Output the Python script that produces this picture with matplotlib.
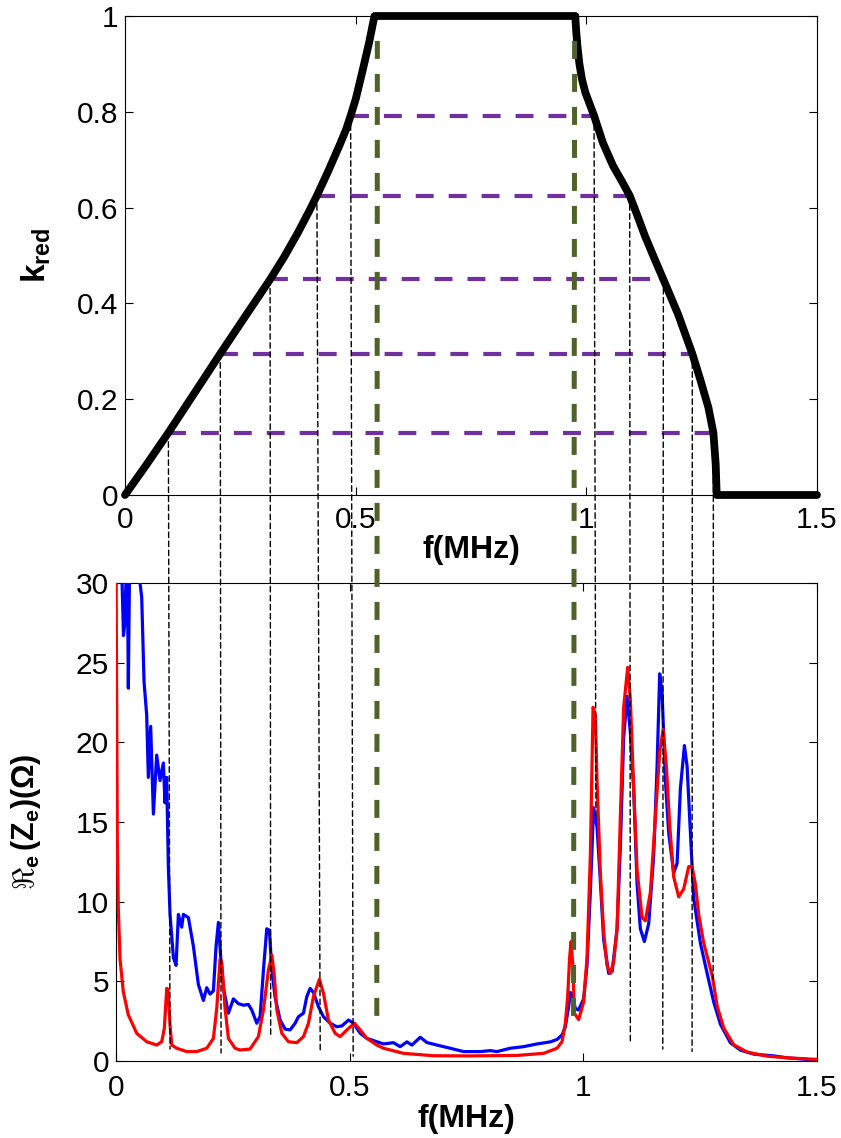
import matplotlib
matplotlib.use("Agg")
import matplotlib.pyplot as plt
from matplotlib.patches import ConnectionPatch

plt.rcParams['font.family'] = ['Liberation Sans', 'DejaVu Sans']
plt.rcParams['mathtext.fontset'] = 'custom'
plt.rcParams['mathtext.rm'] = 'Liberation Sans'
plt.rcParams['mathtext.it'] = 'Liberation Sans:italic'
plt.rcParams['mathtext.bf'] = 'Liberation Sans:bold'

# ---------------- data ----------------
# top: reduction coefficient k_red vs f (MHz)
k_f = [0, 0.047, 0.094, 0.15, 0.2065, 0.26, 0.3145, 0.345, 0.375, 0.40, 0.416, 0.44,
       0.465, 0.48, 0.4891, 0.50, 0.5145, 0.522, 0.529, 0.5345, 0.5384, 0.541,
       0.976, 0.978, 0.981, 0.985, 0.9905, 0.998, 1.0167, 1.036, 1.058, 1.077, 1.094,
       1.11, 1.127, 1.147, 1.167, 1.199, 1.2297, 1.2464, 1.2645, 1.2754, 1.2804,
       1.2826, 1.5]
k_v = [0, 0.064, 0.13, 0.212, 0.295, 0.372, 0.45, 0.497, 0.548, 0.594, 0.625, 0.675,
       0.73, 0.765, 0.792, 0.826, 0.884, 0.915, 0.944, 0.97, 0.989, 1.0,
       1.0, 0.968, 0.935, 0.9, 0.868, 0.84, 0.792, 0.735, 0.687, 0.655, 0.625,
       0.585, 0.541, 0.495, 0.45, 0.377, 0.295, 0.243, 0.183, 0.13, 0.0646,
       0.0, 0.0]

# horizontal levels and their intersections
levels = [0.13, 0.295, 0.45, 0.625, 0.792]
lev_left_top = [0.094, 0.2065, 0.3145, 0.416, 0.4891]
lev_right_top = [1.2754, 1.2297, 1.167, 1.094, 1.0167]
lev_left_bot = [0.1156, 0.2248, 0.331, 0.437, 0.5075]
lev_left_end = [0.75, 0.5, 1.6, 0.5, 0.3]
lev_right_bot = [1.2777, 1.2327, 1.170, 1.1006, 1.027]
lev_right_end = [5.1, 0.6, 0.75, 1.1, 15.3]

# band edges (green)
band_top_f = [0.547, 0.9746]
band_top_k = [0.948, 0.948]
band_bot_f = [0.558, 0.979]
band_bot_v = [1.95, 1.95]

# bottom: real part of impedance
blue_f = [0.004, 0.012, 0.016, 0.019, 0.022, 0.024, 0.0264, 0.029, 0.033, 0.045, 0.0514,
          0.055, 0.060, 0.0657, 0.0692, 0.0742, 0.080, 0.0871, 0.0942, 0.1013, 0.1049,
          0.1085, 0.112, 0.1156, 0.1228, 0.1285, 0.1335, 0.1406, 0.1442, 0.1549, 0.1656,
          0.1763, 0.187, 0.1941, 0.2013, 0.2084, 0.2141, 0.2191, 0.2241, 0.2298, 0.2405,
          0.2512, 0.2619, 0.2726, 0.2833, 0.2905, 0.3013, 0.3084, 0.3155, 0.3226, 0.3283,
          0.3334, 0.3405, 0.3512, 0.3619, 0.3726, 0.3833, 0.3904, 0.4011, 0.4083, 0.4154,
          0.4225, 0.4332, 0.4439, 0.4582, 0.4726, 0.4833, 0.4975, 0.5082, 0.5225, 0.5368,
          0.5582, 0.5724, 0.5938, 0.6081, 0.6225, 0.6332, 0.651, 0.6653, 0.6867, 0.7152,
          0.7437, 0.7794, 0.8009, 0.8152, 0.8437, 0.8722, 0.9009, 0.9293, 0.9437, 0.9544,
          0.9615, 0.9685, 0.9722, 0.9758, 0.9829, 0.9899, 1.0006, 1.0079, 1.015, 1.022,
          1.0293, 1.0364, 1.0435, 1.0542, 1.0615, 1.0722, 1.0792, 1.0863, 1.0936, 1.1006,
          1.1077, 1.115, 1.122, 1.1306, 1.1398, 1.1506, 1.1578, 1.1634, 1.1685, 1.1756,
          1.1827, 1.1934, 1.2006, 1.2077, 1.2163, 1.222, 1.2291, 1.2362, 1.2505, 1.2649,
          1.279, 1.2934, 1.3148, 1.3362, 1.3647, 1.4075, 1.4362, 1.5]
blue_v = [40, 31, 26.7, 27.5, 31, 32, 23.4, 31, 38, 33, 30,
          29.1, 23.8, 21.7, 17.8, 21.0, 15.5, 19.2, 17.6, 18.7, 16.2,
          17.8, 12.2, 9.2, 6.5, 6.0, 9.2, 8.4, 9.2, 9.0, 7.2,
          4.8, 3.8, 4.6, 4.2, 4.4, 7.2, 8.7, 6.5, 4.6, 3.0,
          3.9, 3.6, 3.5, 3.55, 3.2, 2.37, 2.8, 5.7, 8.3, 8.2,
          5.7, 4.0, 2.57, 2.0, 1.95, 2.37, 2.78, 3.0, 4.04, 4.56,
          4.3, 3.41, 2.78, 2.37, 2.15, 2.2, 2.57, 2.37, 1.74, 1.42,
          1.21, 1.07, 1.15, 0.9, 1.2, 1.0, 1.49, 1.16, 1.0, 0.8,
          0.59, 0.59, 0.65, 0.59, 0.8, 0.9, 1.07, 1.2, 1.35, 1.63,
          2.15, 3.4, 4.3, 4.2, 3.3, 3.2, 3.9, 6.0, 10.6, 15.9,
          14.7, 11.3, 7.6, 5.5, 5.6, 8.3, 13.4, 20.3, 22.9, 20.6,
          17.1, 11.1, 8.3, 7.5, 8.6, 12.9, 18.5, 24.3, 23.1, 17.6,
          14.3, 11.8, 12.4, 17.1, 19.8, 18.5, 14.3, 10.2, 7.4, 5.5,
          3.7, 2.3, 1.14, 0.68, 0.43, 0.32, 0.2, 0.05]

red_f = [0.0, 0.0015, 0.0028, 0.0049, 0.0086, 0.0156, 0.0263, 0.0443, 0.0657, 0.0872,
         0.0979, 0.1034, 0.1086, 0.1113, 0.1156, 0.1193, 0.13, 0.1514, 0.1728, 0.1942,
         0.2084, 0.2156, 0.2227, 0.2263, 0.2334, 0.2405, 0.2548, 0.2655, 0.2869, 0.3047,
         0.3154, 0.3261, 0.3334, 0.3383, 0.3441, 0.3548, 0.369, 0.3869, 0.4011, 0.4118,
         0.4225, 0.4353, 0.4439, 0.4546, 0.469, 0.4797, 0.494, 0.5103, 0.5225, 0.5368,
         0.5582, 0.5724, 0.6152, 0.6794, 0.758, 0.858, 0.915, 0.9437, 0.9544, 0.9615,
         0.9664, 0.9707, 0.9737, 0.978, 0.9807, 0.99, 1.0006, 1.0079, 1.015, 1.0208,
         1.0257, 1.0293, 1.0364, 1.0435, 1.0507, 1.0578, 1.0649, 1.0722, 1.0792, 1.0863,
         1.0949, 1.1006, 1.1077, 1.115, 1.1257, 1.1328, 1.1435, 1.1542, 1.1634, 1.1707,
         1.1777, 1.1848, 1.1934, 1.2041, 1.2148, 1.2255, 1.2327, 1.2398, 1.2469, 1.2576,
         1.2762, 1.2863, 1.3004, 1.3218, 1.3505, 1.3933, 1.4362, 1.5]
red_v = [32, 22.1, 13.8, 9.6, 6.4, 4.35, 2.9, 1.74, 1.21, 1.0,
         1.21, 2.05, 4.56, 4.5, 2.26, 1.0, 0.8, 0.59, 0.59, 0.8,
         1.42, 3.3, 6.4, 6.2, 3.3, 1.42, 0.8, 0.69, 0.75, 1.53,
         3.2, 5.7, 6.65, 5.5, 3.2, 1.74, 1.21, 1.15, 1.53, 2.37,
         4.04, 5.13, 4.25, 2.57, 1.74, 1.53, 1.95, 2.37, 1.95, 1.42,
         1.0, 0.8, 0.48, 0.33, 0.32, 0.35, 0.48, 0.8, 1.21, 2.37,
         4.0, 6.5, 7.5, 5.8, 3.0, 2.6, 3.7, 6.5, 12.9, 22.2,
         21.7, 17.6, 11.8, 8.1, 6.0, 5.5, 6.2, 8.3, 15.3, 22.2,
         24.7, 22.7, 17.1, 12.0, 9.0, 8.8, 10.6, 15.3, 19.4, 20.8,
         18.5, 14.8, 11.55, 10.3, 10.8, 12.2, 12.2, 11.1, 9.2, 7.4,
         5.3, 3.45, 2.07, 1.02, 0.56, 0.3, 0.2, 0.1]

x_ticks = [0, 0.5, 1, 1.5]
x_ticklabels = ['0', '0.5', '1', '1.5']
k_ticks = [0, 0.2, 0.4, 0.6, 0.8, 1]
k_ticklabels = ['0', '0.2', '0.4', '0.6', '0.8', '1']
z_ticks = [0, 5, 10, 15, 20, 25, 30]
z_ticklabels = ['0', '5', '10', '15', '20', '25', '30']

# ---------------- figure ----------------
W, H = 841, 1138
fig = plt.figure(figsize=(W / 100, H / 100), dpi=100)
ax1 = fig.add_axes([125 / W, 1 - 495 / H, (817 - 125) / W, (495 - 16) / H])
ax2 = fig.add_axes([116 / W, 1 - 1061 / H, (817 - 116) / W, (1061 - 583) / H])

PURPLE = '#7030A0'
GREEN = '#4F6228'
TICK_FS = 21.5
LAB_FS = 23

for ax in (ax1, ax2):
    for s in ax.spines.values():
        s.set_linewidth(0.8)
    ax.tick_params(direction='in', length=6, width=0.8, top=True, right=True,
                   labelsize=TICK_FS)

# top panel
ax1.plot(k_f, k_v, color='black', lw=5.6, solid_capstyle='round',
         solid_joinstyle='round', clip_on=False, zorder=4)
for lv, fl, fr in zip(levels, lev_left_top, lev_right_top):
    ax1.plot([fl, fr], [lv, lv], color=PURPLE, lw=3.0, dashes=(4.3, 3.6), zorder=3)
ax1.set_xlim(0, 1.5)
ax1.set_ylim(0, 1)
ax1.set_xticks(x_ticks)
ax1.set_xticklabels(x_ticklabels)
ax1.set_yticks(k_ticks)
ax1.set_yticklabels(k_ticklabels)
ax1.tick_params(axis='x', pad=8)
ax1.tick_params(axis='y', pad=5)
ax1.set_xlabel('f(MHz)', fontsize=LAB_FS, fontweight='bold')
ax1.set_ylabel(r'$\mathbf{k_{red}}$', fontsize=LAB_FS + 1)
ax1.xaxis.set_label_coords(0.5, -0.084)
ax1.yaxis.set_label_coords(-0.104, 0.5)

# bottom panel
ax2.plot(blue_f, blue_v, color='#0000FF', lw=2.3, zorder=3)
ax2.plot(red_f, red_v, color='#FF0000', lw=2.3, zorder=3)
ax2.set_xlim(0, 1.5)
ax2.set_ylim(0, 30)
ax2.set_xticks(x_ticks)
ax2.set_xticklabels(x_ticklabels)
ax2.set_yticks(z_ticks)
ax2.set_yticklabels(z_ticklabels)
ax2.tick_params(axis='x', pad=9)
ax2.tick_params(axis='y', pad=5)
ax2.set_xlabel('f(MHz)', fontsize=LAB_FS, fontweight='bold')
ax2.set_ylabel(r'$\Re_{\mathbf{e}}\,\mathbf{(Z_e)(\Omega)}$', fontsize=LAB_FS - 1)
ax2.xaxis.set_label_coords(0.5, -0.09)
ax2.yaxis.set_label_coords(-0.104, 0.5)

# thin connecting dashed lines
for ft, lv, fb, ve in zip(lev_left_top + lev_right_top, levels + levels,
                          lev_left_bot + lev_right_bot, lev_left_end + lev_right_end):
    con = ConnectionPatch(xyA=(ft, lv), coordsA=ax1.transData,
                          xyB=(fb, ve), coordsB=ax2.transData,
                          color='black', lw=1.0, linestyle=(0, (4, 2.5)), zorder=5)
    fig.add_artist(con)

# green band-edge lines
for ft, kt, fb, vb in zip(band_top_f, band_top_k, band_bot_f, band_bot_v):
    con = ConnectionPatch(xyA=(ft, kt), coordsA=ax1.transData,
                          xyB=(fb, vb), coordsB=ax2.transData,
                          color=GREEN, lw=3.6, linestyle=(0, (3.6, 3.0)),
                          capstyle='butt', zorder=6)
    fig.add_artist(con)

fig.savefig('out.png', dpi=100)
